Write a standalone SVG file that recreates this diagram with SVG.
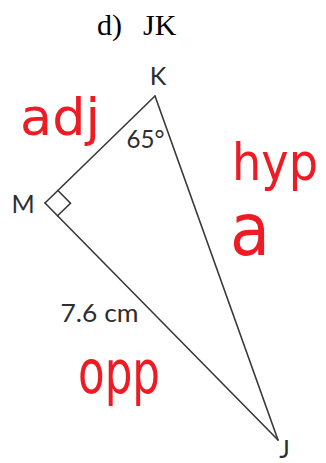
<svg xmlns="http://www.w3.org/2000/svg" width="326" height="463" viewBox="0 0 326 463">
<style>
.side{stroke:#383838;stroke-width:1.6;fill:none;stroke-linecap:round}
.lbl{font-family:Lato,"Open Sans","Liberation Sans",sans-serif;font-size:25px;fill:#2e2e2e}
.title{font-family:"Liberation Serif","Times New Roman",serif;font-size:30px;fill:#000}
.hand{font-family:"DejaVu Sans",sans-serif;fill:#ed1c24}
</style>
<rect width="326" height="463" fill="#fff"/>
<g id="title">
<text class="title" x="97" y="35">d)</text>
<text class="title" x="143" y="35">JK</text>
</g>
<g id="connectors">
<line class="side" x1="155" y1="96" x2="45" y2="203"/>
<line class="side" x1="45" y1="203" x2="278" y2="440"/>
<line class="side" x1="155" y1="96" x2="278" y2="440"/>
<polyline class="side" points="57.9,190.5 70.5,203.3 57.6,215.8"/>
</g>
<g id="node-K">
<text class="lbl" x="158" y="85" text-anchor="middle">K</text>
<text class="lbl" x="126.5" y="147.5" textLength="38" lengthAdjust="spacingAndGlyphs">65°</text>
</g>
<g id="node-M">
<text class="lbl" x="23" y="213" text-anchor="middle">M</text>
</g>
<g id="node-J">
<text class="lbl" x="284.5" y="458" text-anchor="middle">J</text>
</g>
<g id="side-label">
<text class="lbl" x="60.5" y="322" textLength="78" lengthAdjust="spacingAndGlyphs">7.6 cm</text>
</g>
<g id="annotations">
<text class="hand" x="20" y="135" font-size="51" textLength="80" lengthAdjust="spacingAndGlyphs">adj</text>
<text class="hand" x="232" y="180" font-size="51" textLength="86" lengthAdjust="spacingAndGlyphs">hyp</text>
<text class="hand" x="230" y="255" font-size="73" textLength="40" lengthAdjust="spacingAndGlyphs">a</text>
<text class="hand" x="78" y="393" font-size="60" textLength="82" lengthAdjust="spacingAndGlyphs">opp</text>
</g>
</svg>
